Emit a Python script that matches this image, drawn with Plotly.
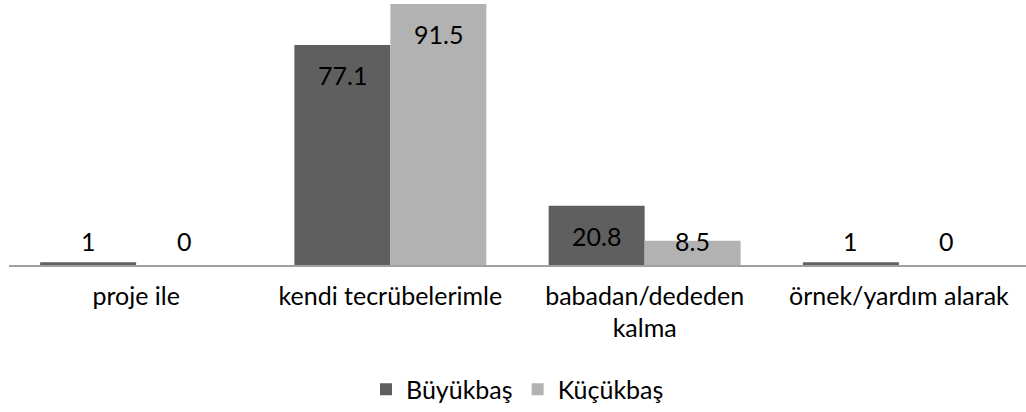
import plotly.graph_objects as go

categories = ["proje ile", "kendi tecrübelerimle", "babadan/dededen<br>kalma", "örnek/yardım alarak"]
buyukbas = [1, 77.1, 20.8, 1]
kucukbas = [0, 91.5, 8.5, 0]
series_names = ["Büyükbaş", "Küçükbaş"]
colors = ["#5f5f5f", "#b2b2b2"]

FONT = "Lato"
FS = 25
fig = go.Figure()
for name, vals, col in zip(series_names, [buyukbas, kucukbas], colors):
    fig.add_trace(go.Bar(name=name, x=categories, y=vals, marker_color=col,
                         marker_line_width=0))

ymax = 92.9
px_per_unit = 265 / ymax
annotations = []
for i, vals in enumerate([buyukbas, kucukbas]):
    shift = -48 if i == 0 else 48
    for c, v in zip(categories, vals):
        top_px = v * px_per_unit
        if top_px > 55:
            annotations.append(dict(x=c, y=v, yanchor="middle", yshift=-30, xshift=shift,
                                    text=f"{v:g}", showarrow=False,
                                    font=dict(family=FONT, size=FS, color="#000")))
        else:
            annotations.append(dict(x=c, y=0, yanchor="middle", yshift=24, xshift=shift,
                                    text=f"{v:g}", showarrow=False,
                                    font=dict(family=FONT, size=FS, color="#000")))

fig.update_layout(
    width=1026, height=412,
    margin=dict(l=9, r=0, t=0, b=147, autoexpand=False),
    barmode="group", bargap=0.245, bargroupgap=0,
    plot_bgcolor="white", paper_bgcolor="white",
    font=dict(family=FONT, size=FS, color="#000"),
    annotations=annotations,
    legend=dict(orientation="h", x=0.5, xanchor="center", y=-0.47, yanchor="middle",
                font=dict(family=FONT, size=FS), itemwidth=30, traceorder="normal"),
    xaxis=dict(showline=True, linecolor="#a0a0a0", linewidth=1.5, ticks="",
               showgrid=False, tickfont=dict(family=FONT, size=FS), ticklabelstandoff=8),
    yaxis=dict(range=[0, ymax], visible=False, showgrid=False),
)
fig.write_html("out.html", config={"displayModeBar": False},
               post_script="document.body.style.margin='0';")
